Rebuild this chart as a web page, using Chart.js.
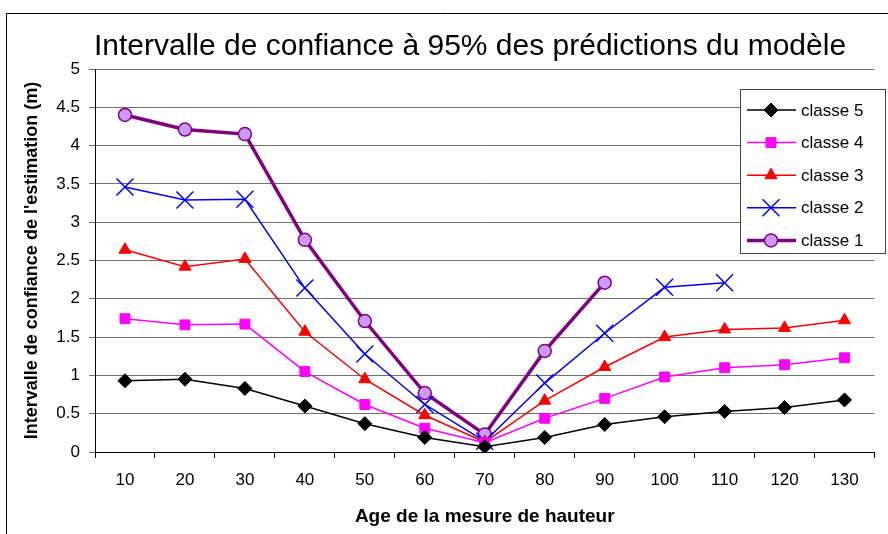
<!DOCTYPE html>
<html>
<head>
<meta charset="utf-8">
<script src="https://cdn.jsdelivr.net/npm/chart.js@4.4.1/dist/chart.umd.min.js"></script>
<style>
  html, body { margin: 0; padding: 0; background: #fff; }
  #wrap { width: 888px; height: 534px; }
</style>
</head>
<body>
<div id="wrap"><canvas id="chart" width="888" height="534"></canvas></div>
<script>
// Ages (x categories)
const ages = ['10', '20', '30', '40', '50', '60', '70', '80', '90', '100', '110', '120', '130'];

// Confidence interval values (m)
const classe5 = [0.93, 0.95, 0.83, 0.60, 0.37, 0.19, 0.07, 0.19, 0.36, 0.46, 0.53, 0.58, 0.68];
const classe4 = [1.74, 1.66, 1.67, 1.05, 0.62, 0.31, 0.12, 0.44, 0.70, 0.98, 1.10, 1.14, 1.23];
const classe3 = [2.64, 2.42, 2.52, 1.57, 0.95, 0.48, 0.13, 0.67, 1.11, 1.50, 1.60, 1.62, 1.72];
const classe2 = [3.46, 3.29, 3.30, 2.14, 1.28, 0.62, 0.14, 0.90, 1.55, 2.15, 2.21, null, null];
const classe1 = [4.40, 4.21, 4.15, 2.77, 1.71, 0.77, 0.23, 1.32, 2.21, null, null, null, null];

const yTicks = [0, 0.5, 1, 1.5, 2, 2.5, 3, 3.5, 4, 4.5, 5];

const FONT = "'Liberation Sans', Arial, sans-serif";

// outer frame + title drawn around the chart
const framePlugin = {
    id: 'frame',
    beforeDraw(chart) {
        const ctx = chart.ctx;
        ctx.save();
        ctx.fillStyle = '#fff';
        ctx.fillRect(0, 0, chart.width, chart.height);
        ctx.strokeStyle = '#000';
        ctx.lineWidth = 1;
        ctx.beginPath();
        ctx.moveTo(6.5, chart.height + 2);
        ctx.lineTo(6.5, 13.5);
        ctx.lineTo(chart.width + 2, 13.5);
        ctx.stroke();
        ctx.fillStyle = '#000';
        ctx.font = "30px " + FONT;
        ctx.textAlign = 'center';
        ctx.textBaseline = 'middle';
        ctx.fillText('Intervalle de confiance à 95% des prédictions du modèle', 470, 47);
        ctx.restore();
    }
};

// legend box inside the plot, like the spreadsheet one
const boxLegend = {
    id: 'boxLegend',
    afterDraw(chart) {
        const ctx = chart.ctx;
        const x0 = 740, y0 = 89, w = 145, h = 164;
        ctx.save();
        ctx.fillStyle = '#fff';
        ctx.fillRect(x0, y0, w, h);
        ctx.strokeStyle = '#444';
        ctx.lineWidth = 1;
        ctx.strokeRect(x0 + 0.5, y0 + 0.5, w, h);
        chart.data.datasets.forEach((ds, i) => {
            const y = 110 + i * 32.6;
            ctx.strokeStyle = ds.borderColor;
            ctx.lineWidth = ds.borderWidth;
            ctx.beginPath();
            ctx.moveTo(747, y);
            ctx.lineTo(796, y);
            ctx.stroke();
            ctx.fillStyle = ds.pointBackgroundColor;
            ctx.strokeStyle = ds.pointBorderColor;
            ctx.lineWidth = ds.pointBorderWidth;
            Chart.helpers.drawPoint(ctx, { pointStyle: ds.pointStyle, radius: ds.pointRadius, rotation: 0, borderWidth: ds.pointBorderWidth }, 771, y);
            ctx.fillStyle = '#000';
            ctx.font = "17px " + FONT;
            ctx.textAlign = 'left';
            ctx.textBaseline = 'middle';
            ctx.fillText(ds.label, 801, y + 1);
        });
        ctx.restore();
    }
};

function series(label, data, color, style, radius, opts) {
    return Object.assign({
        label: label,
        data: data,
        borderColor: color,
        backgroundColor: color,
        borderWidth: 1.5,
        pointStyle: style,
        pointRadius: radius,
        pointHoverRadius: radius,
        pointBackgroundColor: color,
        pointBorderColor: color,
        pointBorderWidth: 1,
        tension: 0,
        spanGaps: false
    }, opts || {});
}

new Chart(document.getElementById('chart').getContext('2d'), {
    type: 'line',
    data: {
        labels: ages,
        datasets: [
            series('classe 5', classe5, '#000000', 'rectRot', 7),
            series('classe 4', classe4, '#FF00FF', 'rect', 7),
            series('classe 3', classe3, '#FF0000', 'triangle', 7),
            series('classe 2', classe2, '#0000FF', 'crossRot', 12, { pointBorderWidth: 1.5 }),
            series('classe 1', classe1, '#800080', 'circle', 6.5, {
                borderWidth: 3.5,
                pointBackgroundColor: '#CC99FF',
                pointBorderColor: '#800080',
                pointBorderWidth: 1.5
            })
        ]
    },
    options: {
        responsive: false,
        animation: false,
        layout: { padding: { top: 69, right: 2, left: 0, bottom: 0 } },
        scales: {
            x: {
                type: 'category',
                offset: true,
                afterFit: s => { s.height = 82; },
                grid: {
                    offset: true,
                    drawOnChartArea: false,
                    color: '#000',
                    tickLength: 6
                },
                border: { color: '#000', width: 1 },
                ticks: { color: '#000', font: { family: FONT, size: 17 }, padding: 12, maxRotation: 0, autoSkip: false },
                title: {
                    display: true,
                    text: 'Age de la mesure de hauteur',
                    color: '#000',
                    font: { family: FONT, size: 19, weight: 'bold' },
                    padding: { top: 6, bottom: 6 }
                }
            },
            y: {
                min: 0,
                max: 5,
                afterFit: s => { s.width = 95; },
                afterBuildTicks: s => { s.ticks = yTicks.map(v => ({ value: v })); },
                grid: { color: '#707070', tickLength: 6, lineWidth: 1 },
                border: { color: '#000', width: 1 },
                ticks: {
                    color: '#000',
                    font: { family: FONT, size: 17 },
                    padding: 9,
                    callback: v => String(v)
                },
                title: {
                    display: true,
                    text: "Intervalle de confiance de l'estimation (m)",
                    color: '#000',
                    font: { family: FONT, size: 18, weight: 'bold' },
                    padding: { top: 21, bottom: 0 }
                }
            }
        },
        plugins: {
            legend: { display: false },
            title: { display: false },
            tooltip: { enabled: false }
        }
    },
    plugins: [framePlugin, boxLegend]
});
</script>
</body>
</html>
